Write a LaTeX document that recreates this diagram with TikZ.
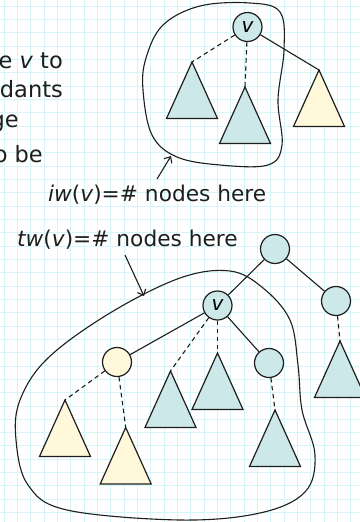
\documentclass[tikz,border=0pt]{standalone}
\usepackage{fontspec}
\setmainfont{DejaVu Sans}
\usetikzlibrary{arrows.meta, math}
\definecolor{gridcyan}{RGB}{212,246,248}
\definecolor{treeteal}{RGB}{205,232,232}
\definecolor{treeyellow}{RGB}{255,248,218}
\definecolor{inkgray}{RGB}{30,30,30}

\begin{document}
\begin{tikzpicture}[x=1pt, y=-1pt,
  tnode/.style={circle, draw=inkgray, line width=1.2pt, fill=treeteal, minimum size=29pt, inner sep=0pt, font=\fontsize{20}{23}\selectfont\itshape},
  ynode/.style={tnode, fill=treeyellow},
  tri/.style={draw=inkgray, line width=1.2pt},
  link/.style={draw=inkgray, line width=1.1pt},
  dashlink/.style={link, dash pattern=on 4.5pt off 3.5pt},
  region/.style={draw=inkgray, line width=1.1pt},
  lbl/.style={inner sep=0pt, text=inkgray, font=\fontsize{21.7}{25}\selectfont},
  slide/.style={lbl, font=\fontsize{22.5}{26}\selectfont},
  ptr/.style={draw=inkgray, line width=1.1pt, -{Straight Barb[length=5pt, width=9pt]}}]
\tikzmath{
\hw=25.5;
\th=56.5;
\gs=13.33;
}
\useasboundingbox (0,0) rectangle (359,522);
\fill[white] (0,0) rectangle (359,522);

% grid paper
\foreach \i in {0,...,27} \draw[gridcyan, line width=0.8pt] (4+\i*\gs,0) -- (4+\i*\gs,522);
\foreach \j in {0,...,39} \draw[gridcyan, line width=0.8pt] (0,6+\j*\gs) -- (359,6+\j*\gs);

% cut-off slide text
\node[slide, anchor=base east] (ln1) at (63,68) {e {\itshape v} to};
\node[slide, anchor=base east] (ln2) at (63,97) {dants};
\node[slide, anchor=base east] (ln3) at (19,127) {ge};
\node[slide, anchor=base east] (ln4) at (43,162) {o be};

% subtrees
\foreach \nm/\ax/\ay/\col in {ta1/192/62/treeteal, ta2/245/87/treeteal, ta3/319/70/treeyellow,
  tb1/170.5/371/treeteal, tb2/217.5/353/treeteal, tb3/275/410/treeteal, tb4/340/341/treeteal,
  tb5/65/400/treeyellow, tb6/125.7/427.5/treeyellow}
  \draw[tri, fill=\col] (\ax,\ay) coordinate (\nm) -- ++(-\hw,\th) -- ++(2*\hw,0) -- cycle;

% top tree
\node[tnode] (va) at (247.5,27) {v};
\draw[dashlink] (va) -- (ta1);
\draw[dashlink] (va) -- (ta2);
\draw[link] (va) -- (ta3);

% bottom tree
\node[tnode] (rt) at (275,249) {};
\node[tnode] (vb) at (217.5,305.5) {v};
\node[tnode] (cr) at (336,301) {};
\node[ynode] (yl) at (117,362) {};
\node[tnode] (wr) at (269,363) {};
\draw[link] (rt) -- (vb);
\draw[link] (rt) -- (cr);
\draw[link] (vb) -- (yl);
\draw[link] (vb) -- (wr);
\draw[dashlink] (vb) -- (tb1);
\draw[dashlink] (vb) -- (tb2);
\draw[dashlink] (wr) -- (tb3);
\draw[dashlink] (cr) -- (tb4);
\draw[dashlink] (yl) -- (tb5);
\draw[dashlink] (yl) -- (tb6);

% regions
\draw[region] plot[smooth cycle, tension=0.6] coordinates {(143,90) (152,135) (177,157) (220,165) (268,165) (282,145) (278,100) (284,50) (280,12) (250,3) (200,6) (163,25) (146,58)};
\draw[region] plot[smooth cycle, tension=0.6] coordinates {(20,400) (48,358) (110,313) (180,278) (230,271) (263,288) (290,320) (298,365) (302,410) (315,455) (305,492) (260,513) (180,520) (67,510) (28,485) (16,440)};

% labels
\node[lbl, anchor=base west] (iwlab) at (48,201) {{\itshape iw}({\itshape v})=\# nodes here};
\node[lbl, anchor=base west] (twlab) at (17,246) {{\itshape tw}({\itshape v})=\# nodes here};
\coordinate (iwfoot) at (157,179);
\coordinate (iwtip) at (171,156);
\coordinate (twfoot) at (125,255);
\coordinate (twtip) at (144,296);
\draw[ptr] (iwfoot) -- (iwtip);
\draw[ptr] (twfoot) -- (twtip);
\end{tikzpicture}
\end{document}
